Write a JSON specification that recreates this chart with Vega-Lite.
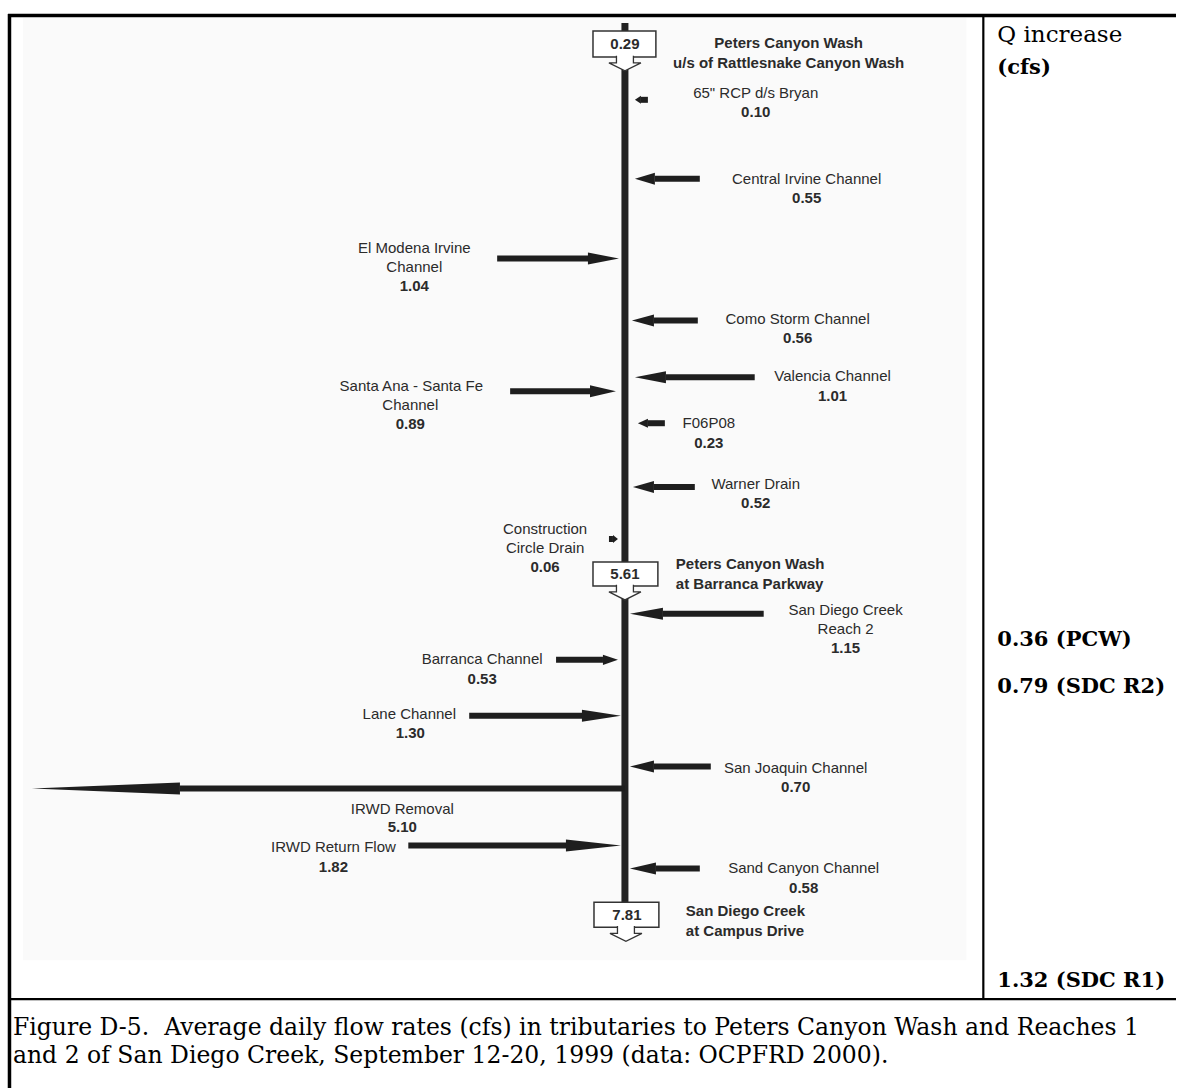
{
  "$schema": "https://vega.github.io/schema/vega-lite/v6.json",
  "width": 1178,
  "height": 1090,
  "autosize": {"type": "fit", "contains": "padding"},
  "padding": 0,
  "background": "white",
  "config": {"view": {"stroke": null}},
  "datasets": {
    "frame": [
      {"part": "scan", "x": 23, "x2": 968, "y": 18, "y2": 962},
      {"part": "border", "x": 8, "x2": 1178, "y": 15.5, "y2": 15.5},
      {"part": "border", "x": 9.5, "x2": 9.5, "y": 14, "y2": 1090},
      {"part": "divider", "x": 985, "x2": 985, "y": 15, "y2": 1001},
      {"part": "divider", "x": 9, "x2": 1178, "y": 1001, "y2": 1001},
      {"part": "main", "x": 626, "x2": 626, "y": 23, "y2": 904}
    ],
    "arrows": [
      {"id": "rcp", "y": 100, "tail": 649, "neck": 642, "tip": 636},
      {"id": "cic", "y": 179, "tail": 701, "neck": 656, "tip": 636},
      {"id": "emi", "y": 259, "tail": 498, "neck": 589, "tip": 620},
      {"id": "como", "y": 321, "tail": 699, "neck": 655, "tip": 633},
      {"id": "val", "y": 378, "tail": 756, "neck": 667, "tip": 636},
      {"id": "sasf", "y": 392, "tail": 511, "neck": 591, "tip": 617},
      {"id": "f06", "y": 424, "tail": 666, "neck": 649, "tip": 639},
      {"id": "warner", "y": 488, "tail": 696, "neck": 655, "tip": 634},
      {"id": "ccd", "y": 540, "tail": 610, "neck": 614, "tip": 619},
      {"id": "sdc2", "y": 615, "tail": 765, "neck": 664, "tip": 631},
      {"id": "barr", "y": 661, "tail": 557, "neck": 604, "tip": 619},
      {"id": "lane", "y": 717, "tail": 470, "neck": 583, "tip": 622},
      {"id": "sj", "y": 768, "tail": 712, "neck": 655, "tip": 631},
      {"id": "irwdr", "y": 790, "tail": 626, "neck": 180, "tip": 32},
      {"id": "irwdrf", "y": 847, "tail": 409, "neck": 567, "tip": 622},
      {"id": "sand", "y": 870, "tail": 701, "neck": 657, "tip": 631}
    ],
    "stations": [
      {"id": "PCW u/s", "x": 594, "x2": 657, "y": 31, "y2": 57, "cx": 626},
      {"id": "PCW Barranca", "x": 594, "x2": 659, "y": 563, "y2": 587, "cx": 626},
      {"id": "SDC Campus", "x": 595, "x2": 660, "y": 904, "y2": 929, "cx": 627}
    ],
    "labels": [
      {"text": "65\" RCP d/s Bryan", "x": 757, "y": 93, "style": "name"},
      {"text": "Central Irvine Channel", "x": 808, "y": 179, "style": "name"},
      {"text": "El Modena Irvine", "x": 415, "y": 248, "style": "name"},
      {"text": "Channel", "x": 415, "y": 267, "style": "name"},
      {"text": "Como Storm Channel", "x": 799, "y": 320, "style": "name"},
      {"text": "Valencia Channel", "x": 834, "y": 377, "style": "name"},
      {"text": "Santa Ana - Santa Fe", "x": 412, "y": 387, "style": "name"},
      {"text": "Channel", "x": 411, "y": 406, "style": "name"},
      {"text": "F06P08", "x": 710, "y": 424, "style": "name"},
      {"text": "Warner Drain", "x": 757, "y": 485, "style": "name"},
      {"text": "Construction", "x": 546, "y": 530, "style": "name"},
      {"text": "Circle Drain", "x": 546, "y": 549, "style": "name"},
      {"text": "San Diego Creek", "x": 847, "y": 611, "style": "name"},
      {"text": "Reach 2", "x": 847, "y": 630, "style": "name"},
      {"text": "Barranca Channel", "x": 483, "y": 660, "style": "name"},
      {"text": "Lane Channel", "x": 410, "y": 715, "style": "name"},
      {"text": "San Joaquin Channel", "x": 797, "y": 769, "style": "name"},
      {"text": "IRWD Removal", "x": 403, "y": 810, "style": "name"},
      {"text": "IRWD Return Flow", "x": 334, "y": 849, "style": "name"},
      {"text": "Sand Canyon Channel", "x": 805, "y": 870, "style": "name"},
      {"text": "0.10", "x": 757, "y": 112, "style": "bold"},
      {"text": "0.55", "x": 808, "y": 198, "style": "bold"},
      {"text": "1.04", "x": 415, "y": 287, "style": "bold"},
      {"text": "0.56", "x": 799, "y": 339, "style": "bold"},
      {"text": "1.01", "x": 834, "y": 397, "style": "bold"},
      {"text": "0.89", "x": 411, "y": 425, "style": "bold"},
      {"text": "0.23", "x": 710, "y": 444, "style": "bold"},
      {"text": "0.52", "x": 757, "y": 504, "style": "bold"},
      {"text": "0.06", "x": 546, "y": 568, "style": "bold"},
      {"text": "1.15", "x": 847, "y": 649, "style": "bold"},
      {"text": "0.53", "x": 483, "y": 680, "style": "bold"},
      {"text": "1.30", "x": 411, "y": 734, "style": "bold"},
      {"text": "0.70", "x": 797, "y": 788, "style": "bold"},
      {"text": "5.10", "x": 403, "y": 829, "style": "bold"},
      {"text": "1.82", "x": 334, "y": 869, "style": "bold"},
      {"text": "0.58", "x": 805, "y": 890, "style": "bold"},
      {"text": "0.29", "x": 626, "y": 44, "style": "bold"},
      {"text": "5.61", "x": 626, "y": 575, "style": "bold"},
      {"text": "7.81", "x": 628, "y": 917, "style": "bold"},
      {"text": "Peters Canyon Wash", "x": 790, "y": 43, "style": "bold"},
      {"text": "u/s of Rattlesnake Canyon Wash", "x": 790, "y": 63, "style": "bold"},
      {"text": "Peters Canyon Wash", "x": 677, "y": 565, "style": "station"},
      {"text": "at Barranca Parkway", "x": 677, "y": 585, "style": "station"},
      {"text": "San Diego Creek", "x": 687, "y": 913, "style": "station"},
      {"text": "at Campus Drive", "x": 687, "y": 933, "style": "station"},
      {"text": "Q increase", "x": 999, "y": 35, "style": "qhead"},
      {"text": "(cfs)", "x": 999, "y": 68, "style": "serifbold"},
      {"text": "0.36 (PCW)", "x": 999, "y": 641, "style": "serifbold"},
      {"text": "0.79 (SDC R2)", "x": 999, "y": 688, "style": "serifbold"},
      {"text": "1.32 (SDC R1)", "x": 999, "y": 983, "style": "serifbold"},
      {"text": "Figure D-5.\u00a0 Average daily flow rates (cfs) in tributaries to Peters Canyon Wash and Reaches 1", "x": 13, "y": 1030, "style": "caption"},
      {"text": "and 2 of San Diego Creek, September 12-20, 1999 (data: OCPFRD 2000).", "x": 13, "y": 1058, "style": "caption"}
    ]
  },
  "layer": [
    {
      "data": {"name": "frame"},
      "transform": [{"filter": "datum.part === 'scan'"}],
      "mark": {"type": "rect", "fill": "#fafafa"},
      "encoding": {
        "x": {"field": "x", "type": "quantitative", "scale": {"domain": [0, 1178], "nice": false, "zero": false}, "axis": null},
        "x2": {"field": "x2"},
        "y": {"field": "y", "type": "quantitative", "scale": {"domain": [0, 1090], "nice": false, "zero": false, "reverse": true}, "axis": null},
        "y2": {"field": "y2"}
      }
    },
    {
      "data": {"name": "frame"},
      "transform": [{"filter": "datum.part === 'border'"}],
      "mark": {"type": "rule", "color": "#000000", "strokeWidth": 3.5, "strokeCap": "butt"},
      "encoding": {
        "x": {"field": "x", "type": "quantitative", "axis": null},
        "x2": {"field": "x2"},
        "y": {"field": "y", "type": "quantitative", "axis": null},
        "y2": {"field": "y2"}
      }
    },
    {
      "data": {"name": "frame"},
      "transform": [{"filter": "datum.part === 'divider'"}],
      "mark": {"type": "rule", "color": "#000000", "strokeWidth": 2.2, "strokeCap": "butt"},
      "encoding": {
        "x": {"field": "x", "type": "quantitative", "axis": null},
        "x2": {"field": "x2"},
        "y": {"field": "y", "type": "quantitative", "axis": null},
        "y2": {"field": "y2"}
      }
    },
    {
      "data": {"name": "frame"},
      "transform": [{"filter": "datum.part === 'main'"}],
      "mark": {"type": "rule", "color": "#222222", "strokeWidth": 7, "strokeCap": "butt"},
      "encoding": {
        "x": {"field": "x", "type": "quantitative", "axis": null},
        "x2": {"field": "x2"},
        "y": {"field": "y", "type": "quantitative", "axis": null},
        "y2": {"field": "y2"}
      }
    },
    {
      "data": {"name": "arrows"},
      "mark": {"type": "rule", "color": "#1e1e1e", "strokeWidth": 6, "strokeCap": "butt"},
      "encoding": {
        "x": {"field": "tail", "type": "quantitative", "axis": null},
        "x2": {"field": "neck"},
        "y": {"field": "y", "type": "quantitative", "axis": null}
      }
    },
    {
      "data": {"name": "arrows"},
      "mark": {"type": "point", "filled": true, "size": 144, "color": "#1e1e1e", "opacity": 1, "strokeWidth": 0},
      "encoding": {
        "x": {"field": "tip", "type": "quantitative", "axis": null},
        "y": {"field": "y", "type": "quantitative", "axis": null},
        "shape": {
          "field": "id",
          "type": "nominal",
          "legend": null,
          "scale": {
            "domain": ["rcp", "cic", "emi", "como", "val", "sasf", "f06", "warner", "ccd", "sdc2", "barr", "lane", "sj", "irwdr", "irwdrf", "sand"],
            "range": [
              "M0,0L1,-0.67L1,0.67Z",
              "M0,0L3.33,-1L3.33,1Z",
              "M0,0L-5.17,-1L-5.17,1Z",
              "M0,0L3.67,-1L3.67,1Z",
              "M0,0L5.17,-1L5.17,1Z",
              "M0,0L-4.33,-1L-4.33,1Z",
              "M0,0L1.67,-0.75L1.67,0.75Z",
              "M0,0L3.5,-1L3.5,1Z",
              "M0,0L-0.83,-0.67L-0.83,0.67Z",
              "M0,0L5.5,-1L5.5,1Z",
              "M0,0L-2.5,-0.85L-2.5,0.85Z",
              "M0,0L-6.5,-1L-6.5,1Z",
              "M0,0L4,-1L4,1Z",
              "M0,0L24.67,-1L24.67,1Z",
              "M0,0L-9.17,-1L-9.17,1Z",
              "M0,0L4.33,-1L4.33,1Z"
            ]
          }
        }
      }
    },
    {
      "data": {"name": "stations"},
      "mark": {"type": "rect", "fill": "white", "stroke": "#333333", "strokeWidth": 1.5},
      "encoding": {
        "x": {"field": "x", "type": "quantitative", "axis": null},
        "x2": {"field": "x2"},
        "y": {"field": "y", "type": "quantitative", "axis": null},
        "y2": {"field": "y2"}
      }
    },
    {
      "data": {"name": "stations"},
      "mark": {"type": "point", "filled": true, "fill": "white", "stroke": "#333333", "strokeWidth": 1.3, "opacity": 1, "size": 256, "shape": "M-1.06,-0.15L-1.06,0.75L-2,0.75L0,1.75L2,0.75L1.06,0.75L1.06,-0.15"},
      "encoding": {
        "x": {"field": "cx", "type": "quantitative", "axis": null},
        "y": {"field": "y2", "type": "quantitative", "axis": null}
      }
    },
    {
      "data": {"name": "labels"},
      "transform": [{"filter": "datum.style === 'name'"}],
      "mark": {"type": "text", "align": "center", "baseline": "middle", "font": "Liberation Sans", "fontSize": 15, "color": "#2b2b2b"},
      "encoding": {
        "x": {"field": "x", "type": "quantitative", "axis": null},
        "y": {"field": "y", "type": "quantitative", "axis": null},
        "text": {"field": "text"}
      }
    },
    {
      "data": {"name": "labels"},
      "transform": [{"filter": "datum.style === 'bold'"}],
      "mark": {"type": "text", "align": "center", "baseline": "middle", "font": "Liberation Sans", "fontSize": 15, "fontWeight": "bold", "color": "#2b2b2b"},
      "encoding": {
        "x": {"field": "x", "type": "quantitative", "axis": null},
        "y": {"field": "y", "type": "quantitative", "axis": null},
        "text": {"field": "text"}
      }
    },
    {
      "data": {"name": "labels"},
      "transform": [{"filter": "datum.style === 'station'"}],
      "mark": {"type": "text", "align": "left", "baseline": "middle", "font": "Liberation Sans", "fontSize": 15, "fontWeight": "bold", "color": "#2b2b2b"},
      "encoding": {
        "x": {"field": "x", "type": "quantitative", "axis": null},
        "y": {"field": "y", "type": "quantitative", "axis": null},
        "text": {"field": "text"}
      }
    },
    {
      "data": {"name": "labels"},
      "transform": [{"filter": "datum.style === 'qhead'"}],
      "mark": {"type": "text", "align": "left", "baseline": "middle", "font": "DejaVu Serif", "fontSize": 23, "color": "#000000"},
      "encoding": {
        "x": {"field": "x", "type": "quantitative", "axis": null},
        "y": {"field": "y", "type": "quantitative", "axis": null},
        "text": {"field": "text"}
      }
    },
    {
      "data": {"name": "labels"},
      "transform": [{"filter": "datum.style === 'caption'"}],
      "mark": {"type": "text", "align": "left", "baseline": "middle", "font": "DejaVu Serif", "fontSize": 23.5, "color": "#000000"},
      "encoding": {
        "x": {"field": "x", "type": "quantitative", "axis": null},
        "y": {"field": "y", "type": "quantitative", "axis": null},
        "text": {"field": "text"}
      }
    },
    {
      "data": {"name": "labels"},
      "transform": [{"filter": "datum.style === 'serifbold'"}],
      "mark": {"type": "text", "align": "left", "baseline": "middle", "font": "DejaVu Serif", "fontSize": 21, "fontWeight": "bold", "color": "#000000"},
      "encoding": {
        "x": {"field": "x", "type": "quantitative", "axis": null},
        "y": {"field": "y", "type": "quantitative", "axis": null},
        "text": {"field": "text"}
      }
    }
  ]
}
